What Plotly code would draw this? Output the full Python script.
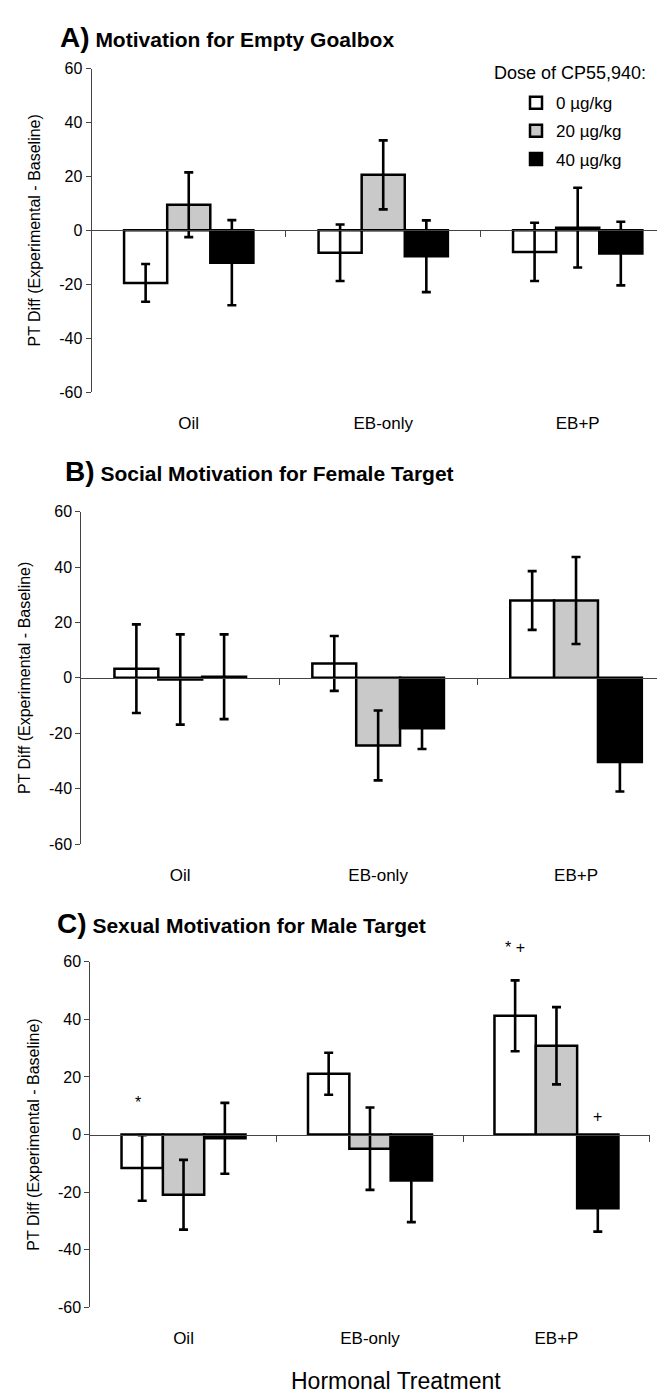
import plotly.graph_objects as go

W, H = 665, 1397

# ---------------- data ----------------
categories = ["Oil", "EB-only", "EB+P"]
dose_labels = ["0 µg/kg", "20 µg/kg", "40 µg/kg"]
y_ticks = [-60, -40, -20, 0, 20, 40, 60]
y_tick_text = ["-60", "-40", "-20", "0", "20", "40", "60"]

# Panel A: Motivation for Empty Goalbox
a_dose0 = [-19.5, -8.3, -8.0]
a_dose20 = [9.5, 20.6, 1.0]
a_dose40 = [-12.0, -9.6, -8.6]
a_dose0_err = [7.0, 10.5, 10.8]
a_dose20_err = [12.0, 12.8, 14.8]
a_dose40_err = [15.8, 13.3, 11.8]

# Panel B: Social Motivation for Female Target
b_dose0 = [3.3, 5.2, 27.9]
b_dose20 = [-0.6, -24.4, 27.9]
b_dose40 = [0.4, -18.2, -30.4]
b_dose0_err = [16.0, 9.9, 10.6]
b_dose20_err = [16.3, 12.6, 15.7]
b_dose40_err = [15.3, 7.5, 10.6]

# Panel C: Sexual Motivation for Male Target
c_dose0 = [-11.6, 21.1, 41.2]
c_dose20 = [-20.9, -4.9, 30.8]
c_dose40 = [-1.3, -16.0, -25.6]
c_dose0_err = [11.4, 7.3, 12.3]
c_dose20_err = [12.1, 14.3, 13.4]
c_dose40_err = [12.3, 14.4, 8.1]

# significance marks in panel C: (category, dose index, text)
c_marks = [("Oil", 0, "*"), ("EB+P", 0, "* +"), ("EB+P", 2, "+")]

# ---------------- styling ----------------
fills = ["#ffffff", "#c9c9c9", "#000000"]
AXC = "#444444"
FONT = "Liberation Sans, Arial, sans-serif"
TFONT = "Liberation Sans Narrow, Arial Narrow, Liberation Sans, Arial, sans-serif"
BARGAP = 0.335
bar_w = (1 - BARGAP) / 3

panels = [
    dict(letter="A)", title="Motivation for Empty Goalbox",
         means=[a_dose0, a_dose20, a_dose40], errs=[a_dose0_err, a_dose20_err, a_dose40_err],
         ytop=53.3, ybot=380.7, xl=83.5, xr=665, rend=2.49,
         tx=50, ty=22),
    dict(letter="B)", title="Social Motivation for Female Target",
         means=[b_dose0, b_dose20, b_dose40], errs=[b_dose0_err, b_dose20_err, b_dose40_err],
         ytop=501.7, ybot=838.3, xl=73.3, xr=665, rend=2.49,
         tx=55, ty=461),
    dict(letter="C)", title="Sexual Motivation for Male Target",
         means=[c_dose0, c_dose20, c_dose40], errs=[c_dose0_err, c_dose20_err, c_dose40_err],
         ytop=957.3, ybot=1307.3, xl=82.3, xr=641.7, rend=2.5,
         tx=47, ty=919),
]

xpos = list(range(len(categories)))
fig = go.Figure()
layout = {}
annotations = []

for i, p in enumerate(panels, start=1):
    xa = "x" if i == 1 else f"x{i}"
    ya = "y" if i == 1 else f"y{i}"
    ov = f"x{i + 3}"
    for d in range(3):
        fig.add_trace(go.Bar(
            x=xpos, y=p["means"][d], name=dose_labels[d],
            xaxis=xa, yaxis=ya,
            marker=dict(color=fills[d], line=dict(color="black", width=2.5)),
            error_y=dict(type="data", array=p["errs"][d], visible=True,
                         color="black", thickness=2.6, width=4.5),
            showlegend=(i == 1), legendgroup=f"g{d}",
        ))
    # dummy trace to register the zero-line overlay axis
    fig.add_trace(go.Scatter(x=[None], y=[None], xaxis=ov, yaxis=ya,
                             mode="markers", showlegend=False, hoverinfo="skip"))

    y0 = 1 - p["ybot"] / H
    y1 = 1 - p["ytop"] / H
    dom = [p["xl"] / W, p["xr"] / W]
    xkey = "xaxis" if i == 1 else f"xaxis{i}"
    ykey = "yaxis" if i == 1 else f"yaxis{i}"
    layout[xkey] = dict(domain=dom, range=[-0.5, p["rend"]], anchor=ya,
                        tickvals=xpos, ticktext=categories, ticks="",
                        showline=False, showgrid=False, zeroline=False,
                        tickfont=dict(size=17, family=FONT, color="black"),
                        ticklabelstandoff=19)
    layout[ykey] = dict(domain=[y0, y1], range=[-60, 60], anchor=xa,
                        tickvals=y_ticks, ticktext=y_tick_text,
                        ticks="outside", ticklen=5, tickwidth=1,
                        tickcolor=AXC, showline=True, linecolor=AXC, linewidth=1,
                        showgrid=False, zeroline=False,
                        tickfont=dict(size=16, family=FONT, color="black"),
                        title=dict(text="PT Diff (Experimental - Baseline)",
                                   font=dict(size=16, family=FONT, color="black"),
                                   standoff=14))
    layout[f"xaxis{i + 3}"] = dict(overlaying=xa, anchor="free", position=(y0 + y1) / 2,
                                   range=[-0.5, p["rend"]], tickvals=[0.5, 1.5, 2.5],
                                   ticks="outside", ticklen=6, tickwidth=1, tickcolor=AXC,
                                   showticklabels=False, showline=True, linecolor=AXC,
                                   linewidth=1, showgrid=False, zeroline=False)
    annotations.append(dict(
        xref="paper", yref="paper", x=p["tx"] / W, y=1 - p["ty"] / H,
        xanchor="left", yanchor="middle", showarrow=False,
        text=f"<b><span style='font-size:28px'>{p['letter']}</span> {p['title']}</b>",
        font=dict(size=21, family=TFONT, color="black")))

# significance marks (panel C)
for cat, d, txt in c_marks:
    ci = categories.index(cat)
    top = max(0, panels[2]["means"][d][ci] + panels[2]["errs"][d][ci])
    annotations.append(dict(
        xref="x3", yref="y3", x=ci + (d - 1) * bar_w, y=top,
        xanchor="center", yanchor="bottom", showarrow=False,
        text=txt, font=dict(size=16, family=FONT, color="black"),
        yshift=22 if txt != "+" else 8, xshift=-4 if txt == "*" else 0))

annotations.append(dict(xref="paper", yref="paper", x=484 / W, y=1 - 58 / H,
                        xanchor="left", yanchor="middle", showarrow=False,
                        text="Dose of CP55,940:",
                        font=dict(size=18, family=FONT, color="black")))
annotations.append(dict(xref="paper", yref="paper", x=388 / W, y=1 - 1382 / H,
                        xanchor="center", yanchor="middle", showarrow=False,
                        text="Hormonal Treatment",
                        font=dict(size=23, family=FONT, color="black")))

fig.update_layout(
    width=W, height=H, margin=dict(l=0, r=0, t=0, b=0),
    paper_bgcolor="white", plot_bgcolor="white",
    barmode="group", bargap=BARGAP, bargroupgap=0,
    font=dict(family=FONT, color="black"),
    legend=dict(x=508 / W, y=1 - 70 / H, xanchor="left", yanchor="top",
                bgcolor="rgba(0,0,0,0)", tracegroupgap=3,
                font=dict(size=17, family=FONT, color="black")),
    annotations=annotations,
    **layout,
)

fig.write_html("out.html")
